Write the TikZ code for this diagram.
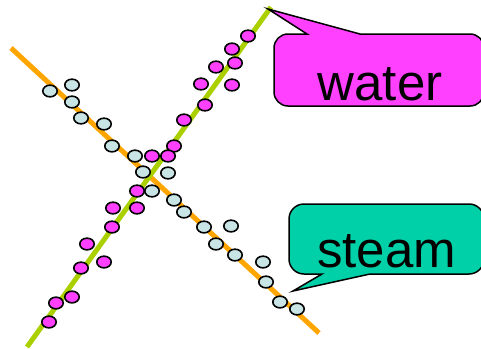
\documentclass[tikz,border=0pt]{standalone}
\usepackage{fontspec}
\setmainfont{Liberation Sans}
\usetikzlibrary{shapes.geometric}
\definecolor{magfill}{RGB}{255,64,255}
\definecolor{cyfill}{RGB}{200,228,228}
\definecolor{orangeline}{RGB}{255,165,0}
\definecolor{greenline}{RGB}{170,208,0}
\definecolor{tealfill}{RGB}{0,208,168}
\tikzset{
  particle/.style={ellipse, draw=black, line width=1.6pt, minimum width=14.4pt, minimum height=11.7pt, inner sep=0pt},
  wpart/.style={particle, fill=magfill},
  spart/.style={particle, fill=cyfill},
  phaseline/.style={line width=5pt},
  callout/.style={draw=black, line width=1.5pt},
  bigtext/.style={anchor=base, inner sep=0pt, font=\fontsize{51}{60}\selectfont}
}
\begin{document}
\begin{tikzpicture}[x=1pt,y=-1pt]
\useasboundingbox (0,0) rectangle (481,348);
% lines
\coordinate (oA) at (11,48);
\coordinate (oB) at (319,333);
\coordinate (gA) at (271,7);
\coordinate (gB) at (27,347);
\draw[phaseline, orangeline] (oA) -- (oB);
\draw[phaseline, greenline] (gA) -- (gB);
% steam particles
\foreach \x/\y [count=\i] in {50/91,72/85,72/102,81/118,104/124,112/146,135/156,143/172,168/173,152/191,174/200,184/212,204/227,231/226,216/244,235/255,263/262,266/282,280/302,297/309}
  \node[spart] (s\i) at (\x,\y) {};
% water particles
\foreach \x/\y [count=\i] in {248/36,232/49,235/63,216/67,232/85,201/84,205/105,184/120,174/146,168/156,152/156,137/191,113/208,137/208,112/227,87/244,104/262,81/268,72/297,56/303,49/322}
  \node[wpart] (w\i) at (\x,\y) {};
% water callout
\draw[callout, fill=magfill] (268,9) -- (360,34) -- (470,34)
  arc[start angle=-90, end angle=0, radius=14] -- (484,92)
  arc[start angle=0, end angle=90, radius=14] -- (288,106)
  arc[start angle=90, end angle=180, radius=14] -- (274,48)
  arc[start angle=180, end angle=270, radius=14] -- (307,34) -- cycle;
\node[bigtext] (water) at (380,100) {water};
% steam callout
\draw[callout, fill=tealfill] (293,291) -- (322,274) -- (304,274)
  arc[start angle=90, end angle=180, radius=15] -- (289,219)
  arc[start angle=180, end angle=270, radius=15] -- (469,204)
  arc[start angle=270, end angle=360, radius=15] -- (484,259)
  arc[start angle=0, end angle=90, radius=15] -- (370,274) -- cycle;
\node[bigtext] (steam) at (386.5,267) {steam};
\end{tikzpicture}
\end{document}
